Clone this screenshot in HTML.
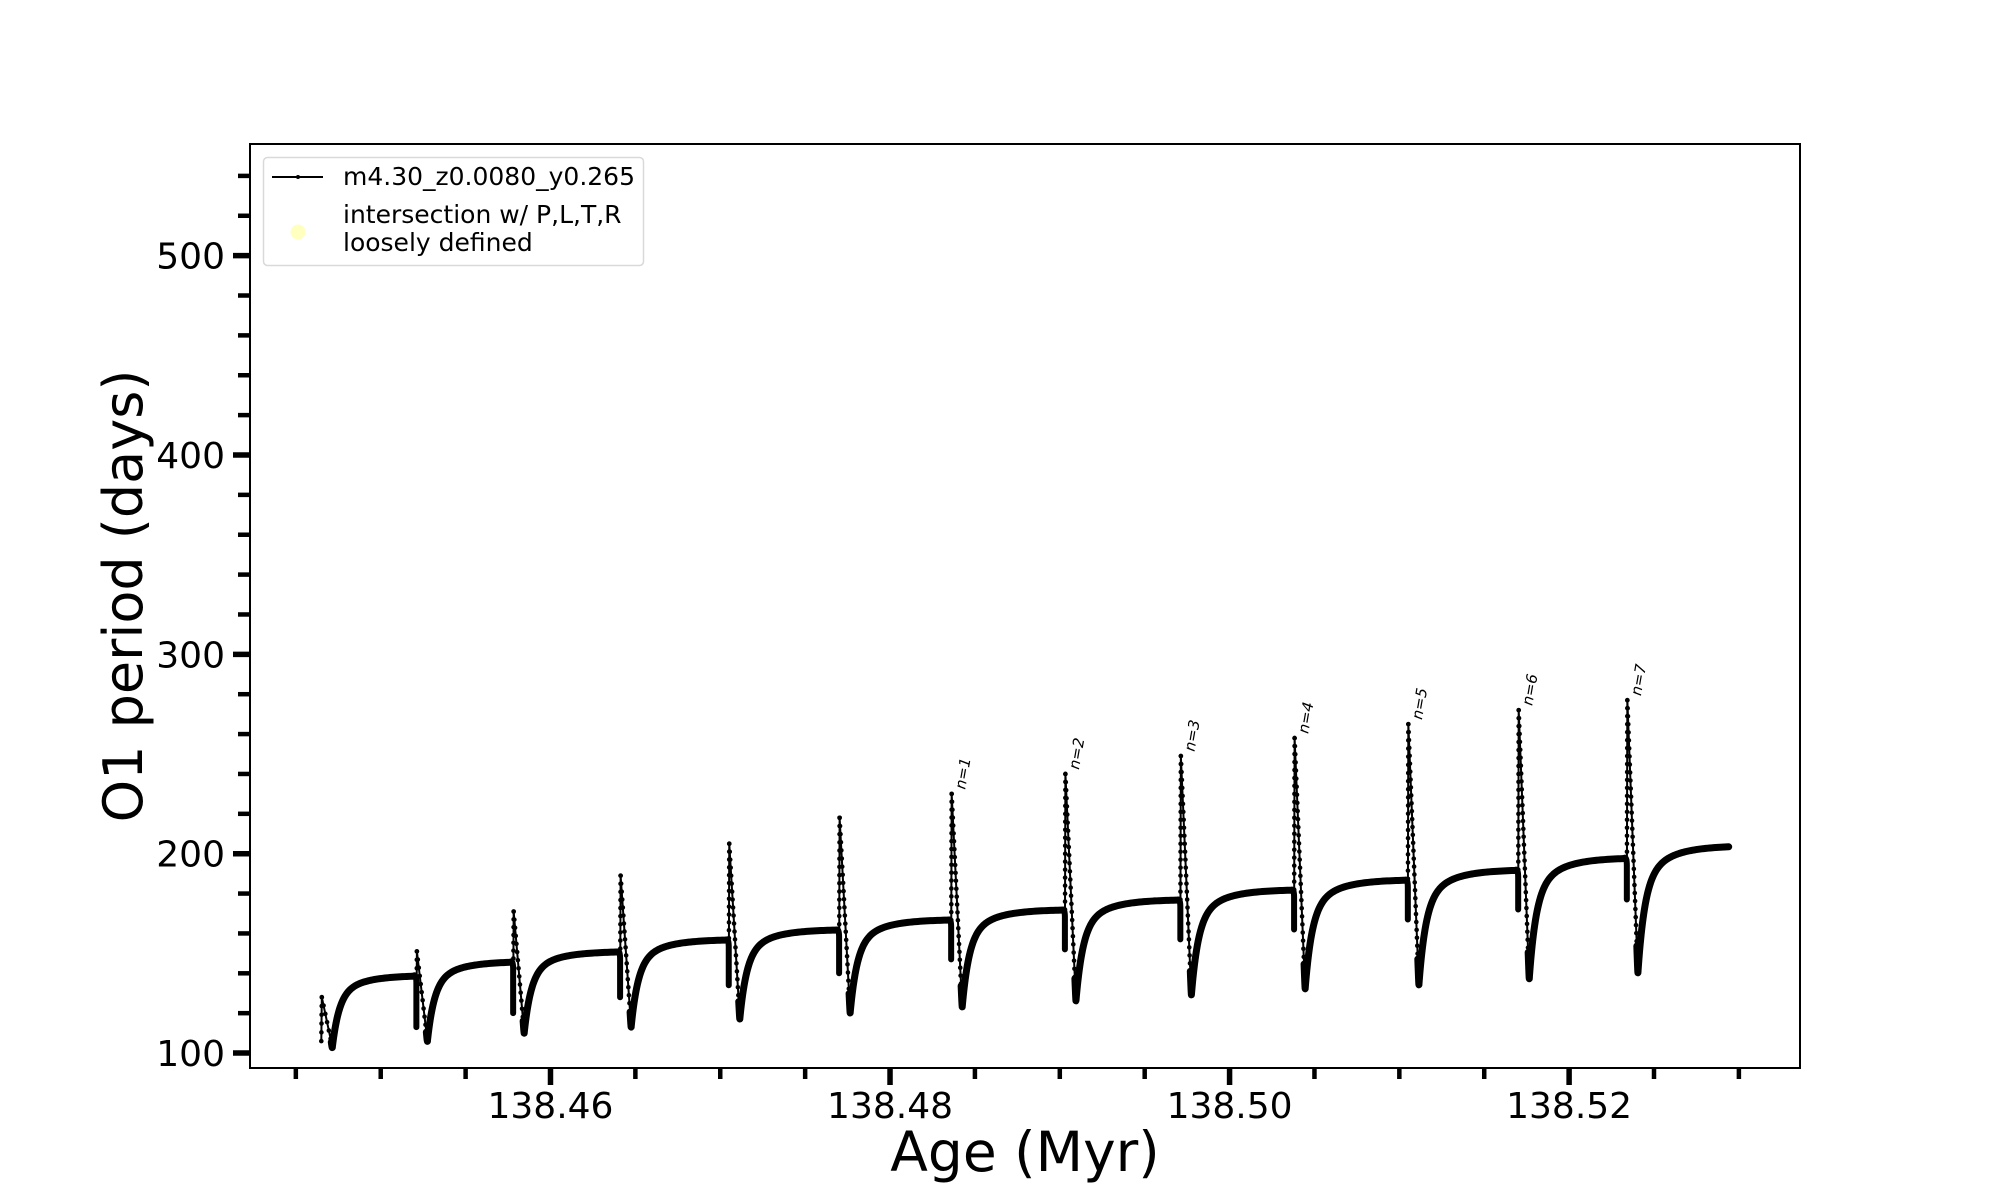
<!DOCTYPE html>
<html><head><meta charset="utf-8">
<style>
html,body{margin:0;padding:0;background:#fff;}
svg{display:block;font-family:"DejaVu Sans","Liberation Sans",sans-serif;}
</style></head>
<body>
<svg id="chart" width="2000" height="1200" viewBox="0 0 2000 1200">
<g id="plot"></g>
</svg>
<script>
const pulseAges = [138.4465,138.4521,138.4578,138.4641,138.4705,138.4770,138.4836,138.4903,138.4971,138.5038,138.5105,138.5170,138.5234];
const dipVals   = [106,113,120,128,134,140,147,152,157,162,167,172,177];
const peakVals  = [128,151,171,189,205,218,230,240,249,258,265,272,277];
const minVals   = [103,106,110,113,117,120,123,126,129,132,134,137,140];
const plateauVals=[139,146,151,157,162,167,172,177,182,187,192,198,204];
const endAge = 138.5294;
const pulseLabels = ["","","","","","","n=1","n=2","n=3","n=4","n=5","n=6","n=7"];
const xTicks = [138.46,138.48,138.50,138.52];
const xTickLabels = ["138.46","138.48","138.50","138.52"];
const yTicks = [100,200,300,400,500];
const yTickLabels = ["100","200","300","400","500"];

const L=250,R=1800,T=144,B=1068;
const X0=138.4423,X1=138.5336,Y0=92.5,Y1=556;
const sx=v=>L+(v-X0)/(X1-X0)*(R-L);
const sy=v=>B-(v-Y0)/(Y1-Y0)*(B-T);
const NS="http://www.w3.org/2000/svg";
const svg=document.getElementById('chart');
const plot=document.getElementById('plot');
function mk(tag,attrs,parent){const e=document.createElementNS(NS,tag);for(const k in attrs)e.setAttribute(k,attrs[k]);(parent||svg).appendChild(e);return e;}

const frame=mk('rect',{x:L,y:T,width:R-L,height:B-T,fill:'none',stroke:'#000','stroke-width':2});



for(let v=100;v<=540;v+=20){
  const major=(v%100===0);
  const t=mk('line',{x1:L-(major?17:12),x2:L,y1:sy(v),y2:sy(v),stroke:'#000','stroke-width':major?5.5:4.5});
  
  
}
yTicks.forEach((v,i)=>{
  const t=mk('text',{x:225,y:sy(v)+13,'text-anchor':'end','font-size':36});
  t.textContent=yTickLabels[i];
  
  
});
for(let k=0;k<=17;k++){
  const v=138.445+k*0.005;
  if(v>X1)break;
  const major=Math.abs(((v-138.46)/0.02)-Math.round((v-138.46)/0.02))<1e-6;
  const t=mk('line',{x1:sx(v),x2:sx(v),y1:B,y2:B+(major?17:11),stroke:'#000','stroke-width':major?5.5:4.5});
  
  
}
xTicks.forEach((v,i)=>{
  const t=mk('text',{x:sx(v),y:1118,'text-anchor':'middle','font-size':36});
  t.textContent=xTickLabels[i];
  
  
});
const xt=mk('text',{x:1025,y:1171,'text-anchor':'middle','font-size':55});
xt.textContent='Age (Myr)';


const yt=mk('text',{x:0,y:0,'text-anchor':'middle','font-size':54,transform:'translate(142,596) rotate(-90)'});
yt.textContent='O1 period (days)';



const dt1=0.00003, dt2=0.00065;
for(let i=0;i<pulseAges.length;i++){
  const t=pulseAges[i];
  const next=(i+1<pulseAges.length)?pulseAges[i+1]:endAge;
  const prevPlat=i>0?plateauVals[i-1]:peakVals[i];
  if(i>0){
    const d=mk('path',{d:`M${sx(t-0.00012)},${sy(prevPlat)} Q${sx(t)},${sy(prevPlat)} ${sx(t)},${sy(prevPlat-4)} L${sx(t)},${sy(dipVals[i])}`,fill:'none',stroke:'#000','stroke-width':6,'stroke-linecap':'round'},plot);
    
    
  }
  const pts=[[t,dipVals[i]],[t+dt1,peakVals[i]],[t+dt2,minVals[i]]];
  const sp=mk('polyline',{points:pts.map(p=>sx(p[0])+','+sy(p[1])).join(' '),fill:'none',stroke:'#000','stroke-width':2},plot);
  
  
  for(let s=0;s<2;s++){
    const a=pts[s],b=pts[s+1];
    const n=Math.max(2,Math.round(Math.abs(sy(a[1])-sy(b[1]))/8));
    for(let k=0;k<=n;k++){
      const f=k/n;
      const c=mk('circle',{cx:sx(a[0]+(b[0]-a[0])*f),cy:sy(a[1]+(b[1]-a[1])*f),r:2.3,fill:'#000'},plot);
      
      
    }
  }
  const a=pts[1],b=pts[2];
  const f0=0.9;
  const dsx=sx(a[0]+(b[0]-a[0])*f0), dsy=sy(a[1]+(b[1]-a[1])*f0);
  const tm=t+dt2, plat=plateauVals[i], mn=minVals[i];
  let dstr=`M${dsx.toFixed(2)},${dsy.toFixed(2)} Q${sx(tm).toFixed(2)},${sy(mn-1.5).toFixed(2)} `;
  const steps=70;
  const tend=next-(i+1<pulseAges.length?0.00012:0);
  for(let k=1;k<=steps;k++){
    const tt=tm+(tend-tm)*Math.pow(k/steps,1.7);
    const dt=tt-tm;
    const v=plat-(plat-mn)*(0.7*Math.exp(-dt/0.0004)+0.3*Math.exp(-dt/0.0015));
    dstr+=(k===1?'':'L')+sx(tt).toFixed(2)+','+sy(v).toFixed(2)+' ';
  }
  const rc=mk('path',{d:dstr,fill:'none',stroke:'#000','stroke-width':7,'stroke-linecap':'round','stroke-linejoin':'round'},plot);
  
  
  if(pulseLabels[i]){
    const lb=mk('text',{x:0,y:0,'font-size':15,'font-style':'italic',transform:`translate(${sx(t)+14},${sy(peakVals[i])-4}) rotate(-80)`},plot);
    lb.textContent=pulseLabels[i];
    
    
  }
}

const lg=mk('g',{});


const lbx=mk('rect',{x:263.5,y:157.5,width:380,height:108,rx:4,fill:'#fff',stroke:'#d9d9d9','stroke-width':1.5},lg);


const ll=mk('line',{x1:272,x2:323,y1:177,y2:177,stroke:'#000','stroke-width':2},lg);


const lc=mk('circle',{cx:298,cy:177,r:2,fill:'#000'},lg);


const t1=mk('text',{x:343,y:185,'font-size':25},lg);
t1.textContent='m4.30_z0.0080_y0.265';


const yd=mk('circle',{cx:298,cy:232,r:7.5,fill:'#ffffb0','fill-opacity':0.8},lg);


const t2=mk('text',{x:343,y:223,'font-size':25},lg);
t2.textContent='intersection w/ P,L,T,R';


const t3=mk('text',{x:343,y:251,'font-size':25},lg);
t3.textContent='loosely defined';


</script>
</body></html>
